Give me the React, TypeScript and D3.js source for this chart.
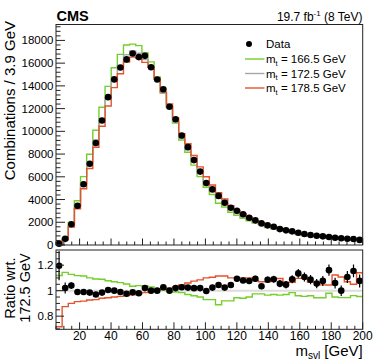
import React from "react";
import * as d3 from "d3";

const binLow = 5;
const binWidth = 3.9;
const dataCounts = [110, 540, 1830, 3450, 5340, 7150, 8970, 10950, 13010, 14570, 15620, 16330, 16850, 16530, 16640, 15640, 14560, 13700, 12160, 11060, 9630, 8610, 7470, 6460, 5450, 4890, 4320, 3720, 3280, 3015, 2700, 2400, 2170, 1900, 1730, 1610, 1400, 1290, 1200, 1080, 970, 880, 820, 760, 700, 640, 590, 550, 530, 450];
const mc1725 = [92, 529, 1760, 3485, 5394, 7259, 9247, 11117, 12945, 14570, 15778, 16732, 17072, 16867, 16314, 15640, 14560, 13340, 12160, 10843, 9377, 8408, 7324, 6333, 5461, 4775, 4134, 3633, 3139, 2756, 2500, 2230, 1984, 1836, 1593, 1477, 1327, 1232, 1101, 951, 876, 810, 777, 706, 603, 604, 590, 497, 459, 418];
const mc1665 = [103, 605, 1985, 3896, 6014, 7985, 10098, 12117, 13955, 15590, 16772, 17600, 17670, 17540, 16917, 16109, 14793, 13407, 12099, 10735, 9236, 8156, 7031, 6016, 5079, 4441, 3679, 3342, 2888, 2604, 2350, 2119, 1934, 1790, 1537, 1433, 1281, 1195, 1084, 913, 837, 778, 734, 667, 591, 574, 558, 470, 441, 399];
const mc1785 = [66, 463, 1584, 3185, 4952, 6729, 8600, 10450, 12233, 13842, 15068, 16096, 16526, 16445, 16069, 15640, 14633, 13473, 12403, 11168, 9799, 8913, 7873, 6871, 6007, 5276, 4609, 4051, 3453, 3032, 2750, 2453, 2143, 1965, 1705, 1617, 1453, 1313, 1174, 1043, 961, 863, 828, 738, 630, 678, 653, 532, 482, 477];

const yTicksMain = [0, 2000, 4000, 6000, 8000, 10000, 12000, 14000, 16000, 18000];
const xTickLabels = [20, 40, 60, 80, 100, 120, 140, 160, 180, 200];
const ratioTicks = [0.8, 1, 1.2];

const GREEN = "#74cf2a";
const GRAY = "#a8a8a8";
const RED = "#e4532c";
const FONT = "'Liberation Sans', Arial, Helvetica, sans-serif";

const L = 56, R = 362.7;
const T0 = 24.5, T1 = 245;
const B0 = 250, B1 = 329.3;

export default function App() {
  const n = dataCounts.length;
  const edges = d3.range(n + 1).map((i) => binLow + binWidth * i);
  const centers = d3.range(n).map((i) => binLow + binWidth * (i + 0.5));
  const x = d3.scaleLinear().domain([5, 200]).range([L, R]);
  const y = d3.scaleLinear().domain([0, 19400]).range([T1, T0]);
  const yr = d3.scaleLinear().domain([0.697, 1.319]).range([B1, B0]);

  const stepPath = (vals: number[], ys: d3.ScaleLinear<number, number>) => {
    const pts = edges.map((e, i) => [e, vals[Math.min(i, n - 1)]] as [number, number]);
    return d3.line<[number, number]>().x((d) => x(d[0])).y((d) => ys(d[1])).curve(d3.curveStepAfter)(pts) || "";
  };

  const ratio = (a: number[]) => a.map((v, i) => v / mc1725[i]);
  const dataRatio = ratio(dataCounts);
  const dataRatioErr = dataCounts.map((v, i) => Math.sqrt(v) / mc1725[i]);

  const yMinor = d3.range(0, 19400, 400).filter((v) => v % 2000 !== 0);
  const xMajor = d3.range(20, 201, 20);
  const xMinor = d3.range(5, 201, 5).filter((v) => v % 20 !== 0);
  const rMinor = d3.range(0.7, 1.32, 0.05).filter((v) => Math.abs(v * 5 - Math.round(v * 5)) > 1e-6);

  const legendRows = [
    { label: "166.5", color: GREEN, y: 59 },
    { label: "172.5", color: GRAY, y: 73.5 },
    { label: "178.5", color: RED, y: 88 },
  ];

  return (
    <svg width={374} height={363} style={{ position: "absolute", left: 0, top: 0, background: "#fff" }} fontFamily={FONT}>
      <defs>
        <clipPath id="clipTop"><rect x={L} y={T0} width={R - L} height={T1 - T0} /></clipPath>
        <clipPath id="clipBot"><rect x={L} y={B0} width={R - L} height={B1 - B0} /></clipPath>
      </defs>
      <rect width={374} height={363} fill="#fff" />

      {/* Top panel */}
      <g clipPath="url(#clipTop)">
        <path d={stepPath(mc1665, y)} fill="none" stroke={GREEN} strokeWidth={1.4} />
        <path d={stepPath(mc1725, y)} fill="none" stroke={GRAY} strokeWidth={1.4} />
        <path d={stepPath(mc1785, y)} fill="none" stroke={RED} strokeWidth={1.4} />
      </g>
      {centers.map((c, i) => (
        <circle key={"d" + i} cx={x(c)} cy={y(dataCounts[i])} r={3.3} fill="#000" />
      ))}
      <rect x={L} y={T0} width={R - L} height={T1 - T0} fill="none" stroke="#222" strokeWidth={1} />
      {yTicksMain.map((v) => (
        <g key={"yt" + v}>
          <line x1={L} x2={L + 9} y1={y(v)} y2={y(v)} stroke="#222" />
          <text x={53.5} y={y(v) + 4} fontSize={11.5} textAnchor="end">{v}</text>
        </g>
      ))}
      {yMinor.map((v) => (
        <line key={"ym" + v} x1={L} x2={L + 4.5} y1={y(v)} y2={y(v)} stroke="#222" />
      ))}
      {xMajor.map((v) => (
        <line key={"xt" + v} x1={x(v)} x2={x(v)} y1={T1} y2={T1 - 6.5} stroke="#222" />
      ))}
      {xMinor.map((v) => (
        <line key={"xm" + v} x1={x(v)} x2={x(v)} y1={T1} y2={T1 - 3.5} stroke="#222" />
      ))}
      <text transform={`translate(15,21) rotate(-90)`} fontSize={15} textAnchor="end">Combinations / 3.9 GeV</text>
      <text x={56.5} y={20.5} fontSize={14.5} fontWeight="bold">CMS</text>
      <text x={362.5} y={21} fontSize={12} textAnchor="end">
        19.7 fb<tspan fontSize={8} dy={-5}>-1</tspan><tspan dy={5}> (8 TeV)</tspan>
      </text>

      {/* Legend */}
      <circle cx={249} cy={44} r={3} fill="#000" />
      <text x={266} y={48} fontSize={11.5}>Data</text>
      {legendRows.map((r) => (
        <g key={r.label}>
          <line x1={245} x2={264.5} y1={r.y} y2={r.y} stroke={r.color} strokeWidth={1.4} />
          <text x={266} y={r.y + 4} fontSize={11.5}>
            m<tspan fontSize={7.5} dy={2.5}>t</tspan><tspan dy={-2.5}>{` = ${r.label} GeV`}</tspan>
          </text>
        </g>
      ))}

      {/* Ratio panel */}
      <line x1={L} x2={R} y1={yr(1)} y2={yr(1)} stroke="#dcdcdc" strokeWidth={2} />
      <g clipPath="url(#clipBot)">
        <path d={stepPath(ratio(mc1665), yr)} fill="none" stroke={GREEN} strokeWidth={1.4} />
        <path d={stepPath(ratio(mc1785), yr)} fill="none" stroke={RED} strokeWidth={1.4} />
        {centers.map((c, i) => (
          <g key={"r" + i}>
            <line x1={x(c)} x2={x(c)} y1={yr(dataRatio[i] - dataRatioErr[i])} y2={yr(dataRatio[i] + dataRatioErr[i])} stroke="#000" strokeWidth={1.2} />
            <circle cx={x(c)} cy={yr(dataRatio[i])} r={3.3} fill="#000" />
          </g>
        ))}
      </g>
      <rect x={L} y={B0} width={R - L} height={B1 - B0} fill="none" stroke="#222" strokeWidth={1} />
      {ratioTicks.map((v) => (
        <g key={"rt" + v}>
          <line x1={L} x2={L + 8} y1={yr(v)} y2={yr(v)} stroke="#222" />
          <text x={53.5} y={yr(v) + 4} fontSize={11.5} textAnchor="end">{v}</text>
        </g>
      ))}
      {rMinor.map((v) => (
        <line key={"rm" + v.toFixed(2)} x1={L} x2={L + 4} y1={yr(v)} y2={yr(v)} stroke="#222" />
      ))}
      {xMajor.map((v) => (
        <line key={"bxt" + v} x1={x(v)} x2={x(v)} y1={B1} y2={B1 - 7} stroke="#222" />
      ))}
      {xMinor.map((v) => (
        <line key={"bxm" + v} x1={x(v)} x2={x(v)} y1={B1} y2={B1 - 3.5} stroke="#222" />
      ))}
      {xTickLabels.map((v) => (
        <text key={"xl" + v} x={x(v)} y={340} fontSize={12} textAnchor="middle">{v}</text>
      ))}
      <text transform={`translate(14.5,288) rotate(-90)`} fontSize={14.5} textAnchor="middle">Ratio wrt.</text>
      <text transform={`translate(30,288) rotate(-90)`} fontSize={14.5} textAnchor="middle">172.5 GeV</text>
      <text x={362.7} y={356} fontSize={15} textAnchor="end">
        m<tspan fontSize={10} dy={3}>svl</tspan><tspan dy={-3}> [GeV]</tspan>
      </text>
    </svg>
  );
}
